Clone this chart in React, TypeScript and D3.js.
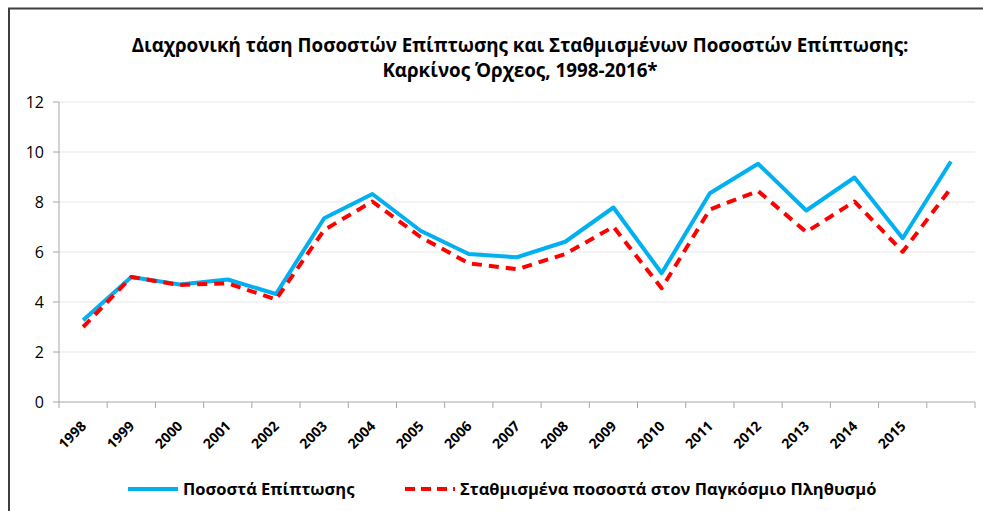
import { useMemo } from "react";
import * as d3 from "d3";

const WIDTH = 983;
const HEIGHT = 511;
const MARGIN = { top: 102, right: 8, bottom: 109, left: 59 };

const YEARS = [
  "1998", "1999", "2000", "2001", "2002", "2003", "2004", "2005", "2006", "2007",
  "2008", "2009", "2010", "2011", "2012", "2013", "2014", "2015", "2016",
];
// the last year has no label on the axis
const TICK_LABELS = [
  "1998", "1999", "2000", "2001", "2002", "2003", "2004", "2005", "2006",
  "2007", "2008", "2009", "2010", "2011", "2012", "2013", "2014", "2015",
];
const INCIDENCE = [
  3.27, 5.0, 4.7, 4.9, 4.32, 7.35, 8.32, 6.85, 5.92, 5.79,
  6.41, 7.78, 5.15, 8.35, 9.53, 7.66, 8.98, 6.55, 9.62,
];
const STANDARDIZED = [
  3.0, 5.0, 4.68, 4.75, 4.1, 6.88, 8.02, 6.6, 5.55, 5.31,
  5.92, 7.01, 4.55, 7.7, 8.44, 6.8, 8.02, 6.01, 8.55,
];
const Y_TICKS = [0, 2, 4, 6, 8, 10, 12];
const TITLE = [
  "Διαχρονική τάση Ποσοστών Επίπτωσης και Σταθμισμένων Ποσοστών Επίπτωσης:",
  "Καρκίνος Όρχεος, 1998-2016*",
];
const LEGEND = ["Ποσοστά Επίπτωσης", "Σταθμισμένα ποσοστά στον Παγκόσμιο Πληθυσμό"];

const FONT = "'Open Sans', sans-serif";

export default function App() {
  const boundsWidth = WIDTH - MARGIN.left - MARGIN.right;
  const boundsHeight = HEIGHT - MARGIN.top - MARGIN.bottom;

  const xScale = useMemo(
    () => d3.scaleBand<string>().domain(YEARS).range([0, boundsWidth]).padding(0),
    [boundsWidth]
  );
  const yScale = useMemo(
    () => d3.scaleLinear().domain([0, 12]).range([boundsHeight, 0]),
    [boundsHeight]
  );

  const cx = (i: number) => (xScale(YEARS[i]) ?? 0) + xScale.bandwidth() / 2;
  const line = d3
    .line<number>()
    .x((_, i) => cx(i))
    .y((d) => yScale(d));

  return (
    <>
      <style>{`html,body{margin:0;padding:0;overflow:hidden}`}</style>
      <svg width={WIDTH} height={HEIGHT} style={{ display: "block", fontFamily: FONT, background: "white" }}>
        {/* chart frame: only the top and left edges fall inside the picture */}
        <path d={`M9,${HEIGHT}V8.5H${WIDTH}`} fill="none" stroke="#3f3f3f" strokeWidth={2} />

        {TITLE.map((t, i) => (
          <text key={i} x={520} y={52 + i * 25} textAnchor="middle" fontSize={18.8} fontWeight="bold" fill="#000">
            {t}
          </text>
        ))}

        <g transform={`translate(${MARGIN.left},${MARGIN.top})`}>
          {Y_TICKS.map((t) => (
            <g key={t} transform={`translate(0,${yScale(t)})`}>
              {t > 0 && <line x1={0} x2={boundsWidth} stroke="#efefef" strokeWidth={1.5} />}
              <line x1={-6} x2={0} stroke="#a6a6a6" />
              <text x={-15} dy="0.35em" textAnchor="end" fontSize={16} fill="#000">
                {t}
              </text>
            </g>
          ))}
          <line x1={0} x2={0} y1={0} y2={boundsHeight} stroke="#a6a6a6" />
          <line x1={0} x2={boundsWidth} y1={boundsHeight} y2={boundsHeight} stroke="#a6a6a6" />
          {YEARS.map((y) => (
            <line key={y} x1={(xScale(y) ?? 0) + xScale.bandwidth()} x2={(xScale(y) ?? 0) + xScale.bandwidth()}
              y1={boundsHeight} y2={boundsHeight + 6} stroke="#a6a6a6" />
          ))}
          <line x1={0} x2={0} y1={boundsHeight} y2={boundsHeight + 6} stroke="#a6a6a6" />
          {TICK_LABELS.map((label, i) => (
            <text key={label} transform={`translate(${cx(i) + 4},${boundsHeight + 25}) rotate(-45)`}
              textAnchor="end" fontSize={14} fontWeight="bold" fill="#000">
              {label}
            </text>
          ))}

          <path d={line(INCIDENCE) ?? ""} fill="none" stroke="#00b0f0" strokeWidth={4} strokeLinejoin="round" />
          <path d={line(STANDARDIZED) ?? ""} fill="none" stroke="#ff0000" strokeWidth={4}
            strokeDasharray="10,7" strokeLinejoin="round" />
        </g>

        <g fontSize={16.5} fontWeight="bold">
          <line x1={128} x2={178} y1={489} y2={489} stroke="#00b0f0" strokeWidth={4} />
          <text x={183} y={495}>{LEGEND[0]}</text>
          <line x1={405} x2={455} y1={489} y2={489} stroke="#ff0000" strokeWidth={4} strokeDasharray="10,6" />
          <text x={460} y={495}>{LEGEND[1]}</text>
        </g>
      </svg>
    </>
  );
}
